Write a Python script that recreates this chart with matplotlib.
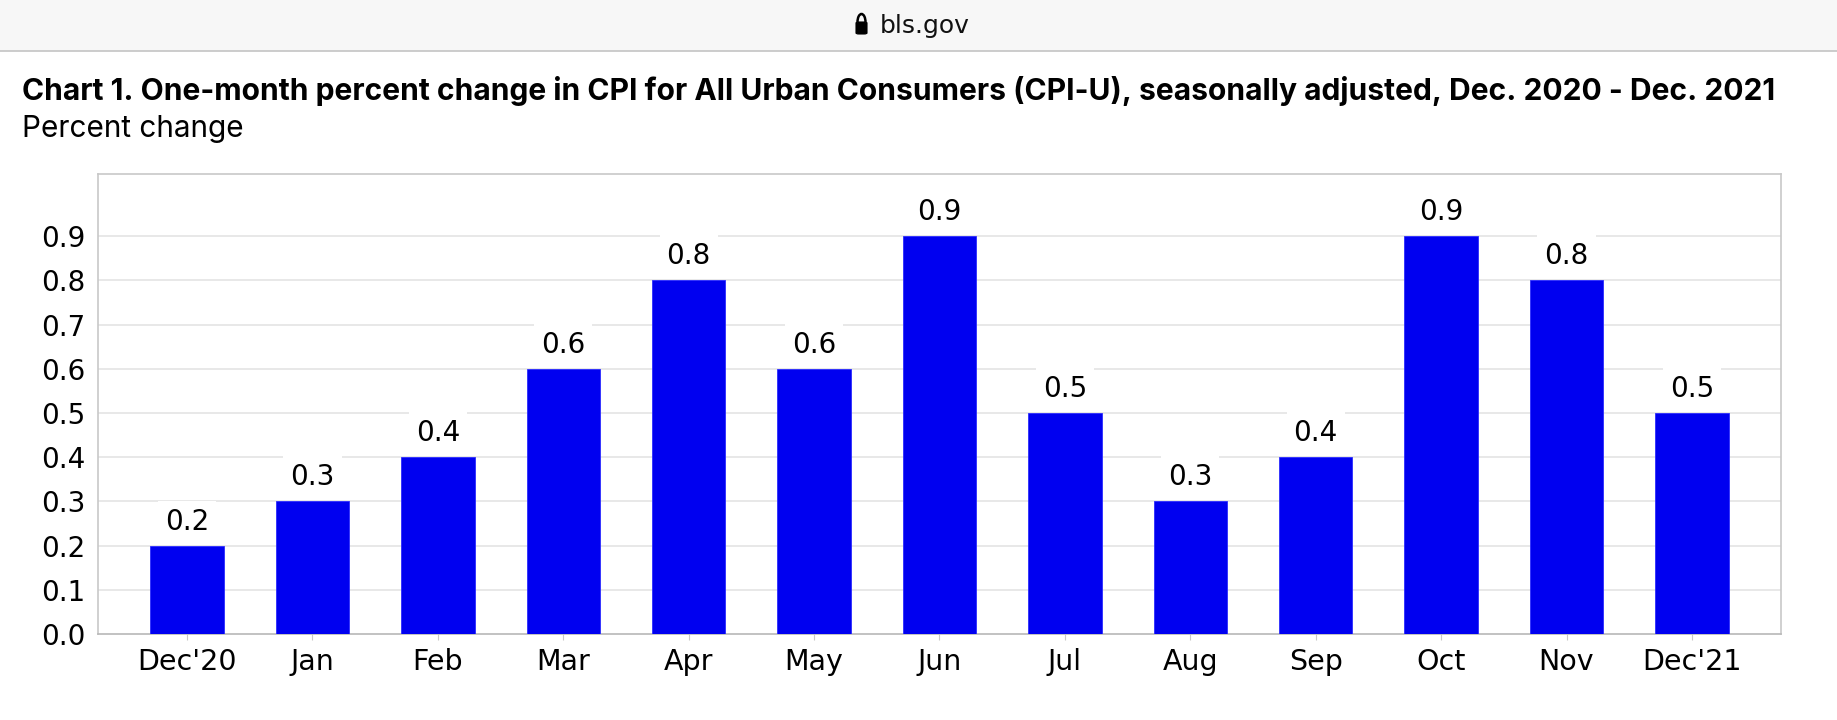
import matplotlib
matplotlib.use("Agg")
import matplotlib.pyplot as plt
from matplotlib.patches import Rectangle, FancyBboxPatch, Arc
from matplotlib.lines import Line2D

months = ["Dec'20", "Jan", "Feb", "Mar", "Apr", "May", "Jun",
          "Jul", "Aug", "Sep", "Oct", "Nov", "Dec'21"]
pct_change = [0.2, 0.3, 0.4, 0.6, 0.8, 0.6, 0.9, 0.5, 0.3, 0.4, 0.9, 0.8, 0.5]
y_ticks = [0.0, 0.1, 0.2, 0.3, 0.4, 0.5, 0.6, 0.7, 0.8, 0.9]
title = ("Chart 1. One-month percent change in CPI for All Urban Consumers (CPI-U), "
         "seasonally adjusted, Dec. 2020 - Dec. 2021")
subtitle = "Percent change"
site = "bls.gov"

W, H = 1837, 720
fig = plt.figure(figsize=(W / 100, H / 100), dpi=100)
fig.patch.set_facecolor("white")

def fx(px):
    return px / W

def fy(py):
    return 1 - py / H

# browser bar
fig.patches.append(Rectangle((0, fy(50.7)), 1, 1 - fy(50.7), transform=fig.transFigure,
                             facecolor="#f7f7f7", edgecolor="none", zorder=0))
fig.lines.append(Line2D([0, 1], [fy(50.7), fy(50.7)], transform=fig.transFigure,
                        color="#c4c4c4", linewidth=1.2))
# lock icon
fig.patches.append(FancyBboxPatch((fx(856), fy(34)), fx(11), fy(22) - fy(34),
                                  boxstyle="round,pad=0,rounding_size=0.0015",
                                  transform=fig.transFigure, facecolor="black",
                                  edgecolor="black", linewidth=0.8))
fig.patches.append(Arc((fx(861.5), fy(22)), fx(8), fy(14) - fy(30), theta1=0, theta2=180,
                       transform=fig.transFigure, color="black", linewidth=1.8))
fig.text(fx(880), fy(26), site, ha="left", va="center", fontsize=18,
         family="DejaVu Sans", color="#111111")

# titles (fit to measured widths in the reference)
renderer = fig.canvas.get_renderer()
t1 = fig.text(fx(22), fy(100), title, ha="left", va="baseline", fontsize=18,
              family="Inter", fontweight="bold", color="black")
w1 = t1.get_window_extent(renderer).width
t1.set_fontsize(18 * 1749 / w1)
t2 = fig.text(fx(22), fy(137), subtitle, ha="left", va="baseline", fontsize=18,
              family="Inter", color="black")
w2 = t2.get_window_extent(renderer).width
t2.set_fontsize(18 * 221 / w2)

ax = fig.add_axes([fx(97.7), fy(634), fx(1781) - fx(97.7), fy(174) - fy(634)])
x = list(range(len(months)))
bars = ax.bar(x, pct_change, width=0.585, color="#0000f0", edgecolor="#2b2bff",
              linewidth=0.6, zorder=3)
ax.set_xlim(-0.712, len(months) - 1 + 0.71)
ax.set_ylim(0, 1.0407)
ax.set_yticks(y_ticks)
ax.set_yticklabels([f"{v:.1f}" for v in y_ticks])
ax.set_xticks(x)
ax.set_xticklabels(months)
for v in y_ticks[1:]:
    ax.axhline(v, color="#e6e6e6", linewidth=1.3, zorder=1)
for s in ax.spines.values():
    s.set_color("#c8c8c8")
    s.set_linewidth(1.2)
ax.spines["bottom"].set_color("#b8b8b8")
ax.tick_params(axis="y", length=0, pad=9, labelsize=20, labelcolor="black")
ax.tick_params(axis="x", length=4, width=0.8, color="#c8c8c8", pad=6,
               labelsize=20.5, labelcolor="black")
for lab in ax.get_xticklabels() + ax.get_yticklabels():
    lab.set_family("DejaVu Sans")

for xi, v in zip(x, pct_change):
    ax.annotate(f"{v:.1f}", xy=(xi, v), xytext=(0, 11.5), textcoords="offset points",
                ha="center", va="baseline", fontsize=20, family="DejaVu Sans",
                color="black", zorder=4,
                bbox=dict(boxstyle="square,pad=0.25", facecolor="white", edgecolor="none"))

fig.savefig("out.png", dpi=100, facecolor="white")
